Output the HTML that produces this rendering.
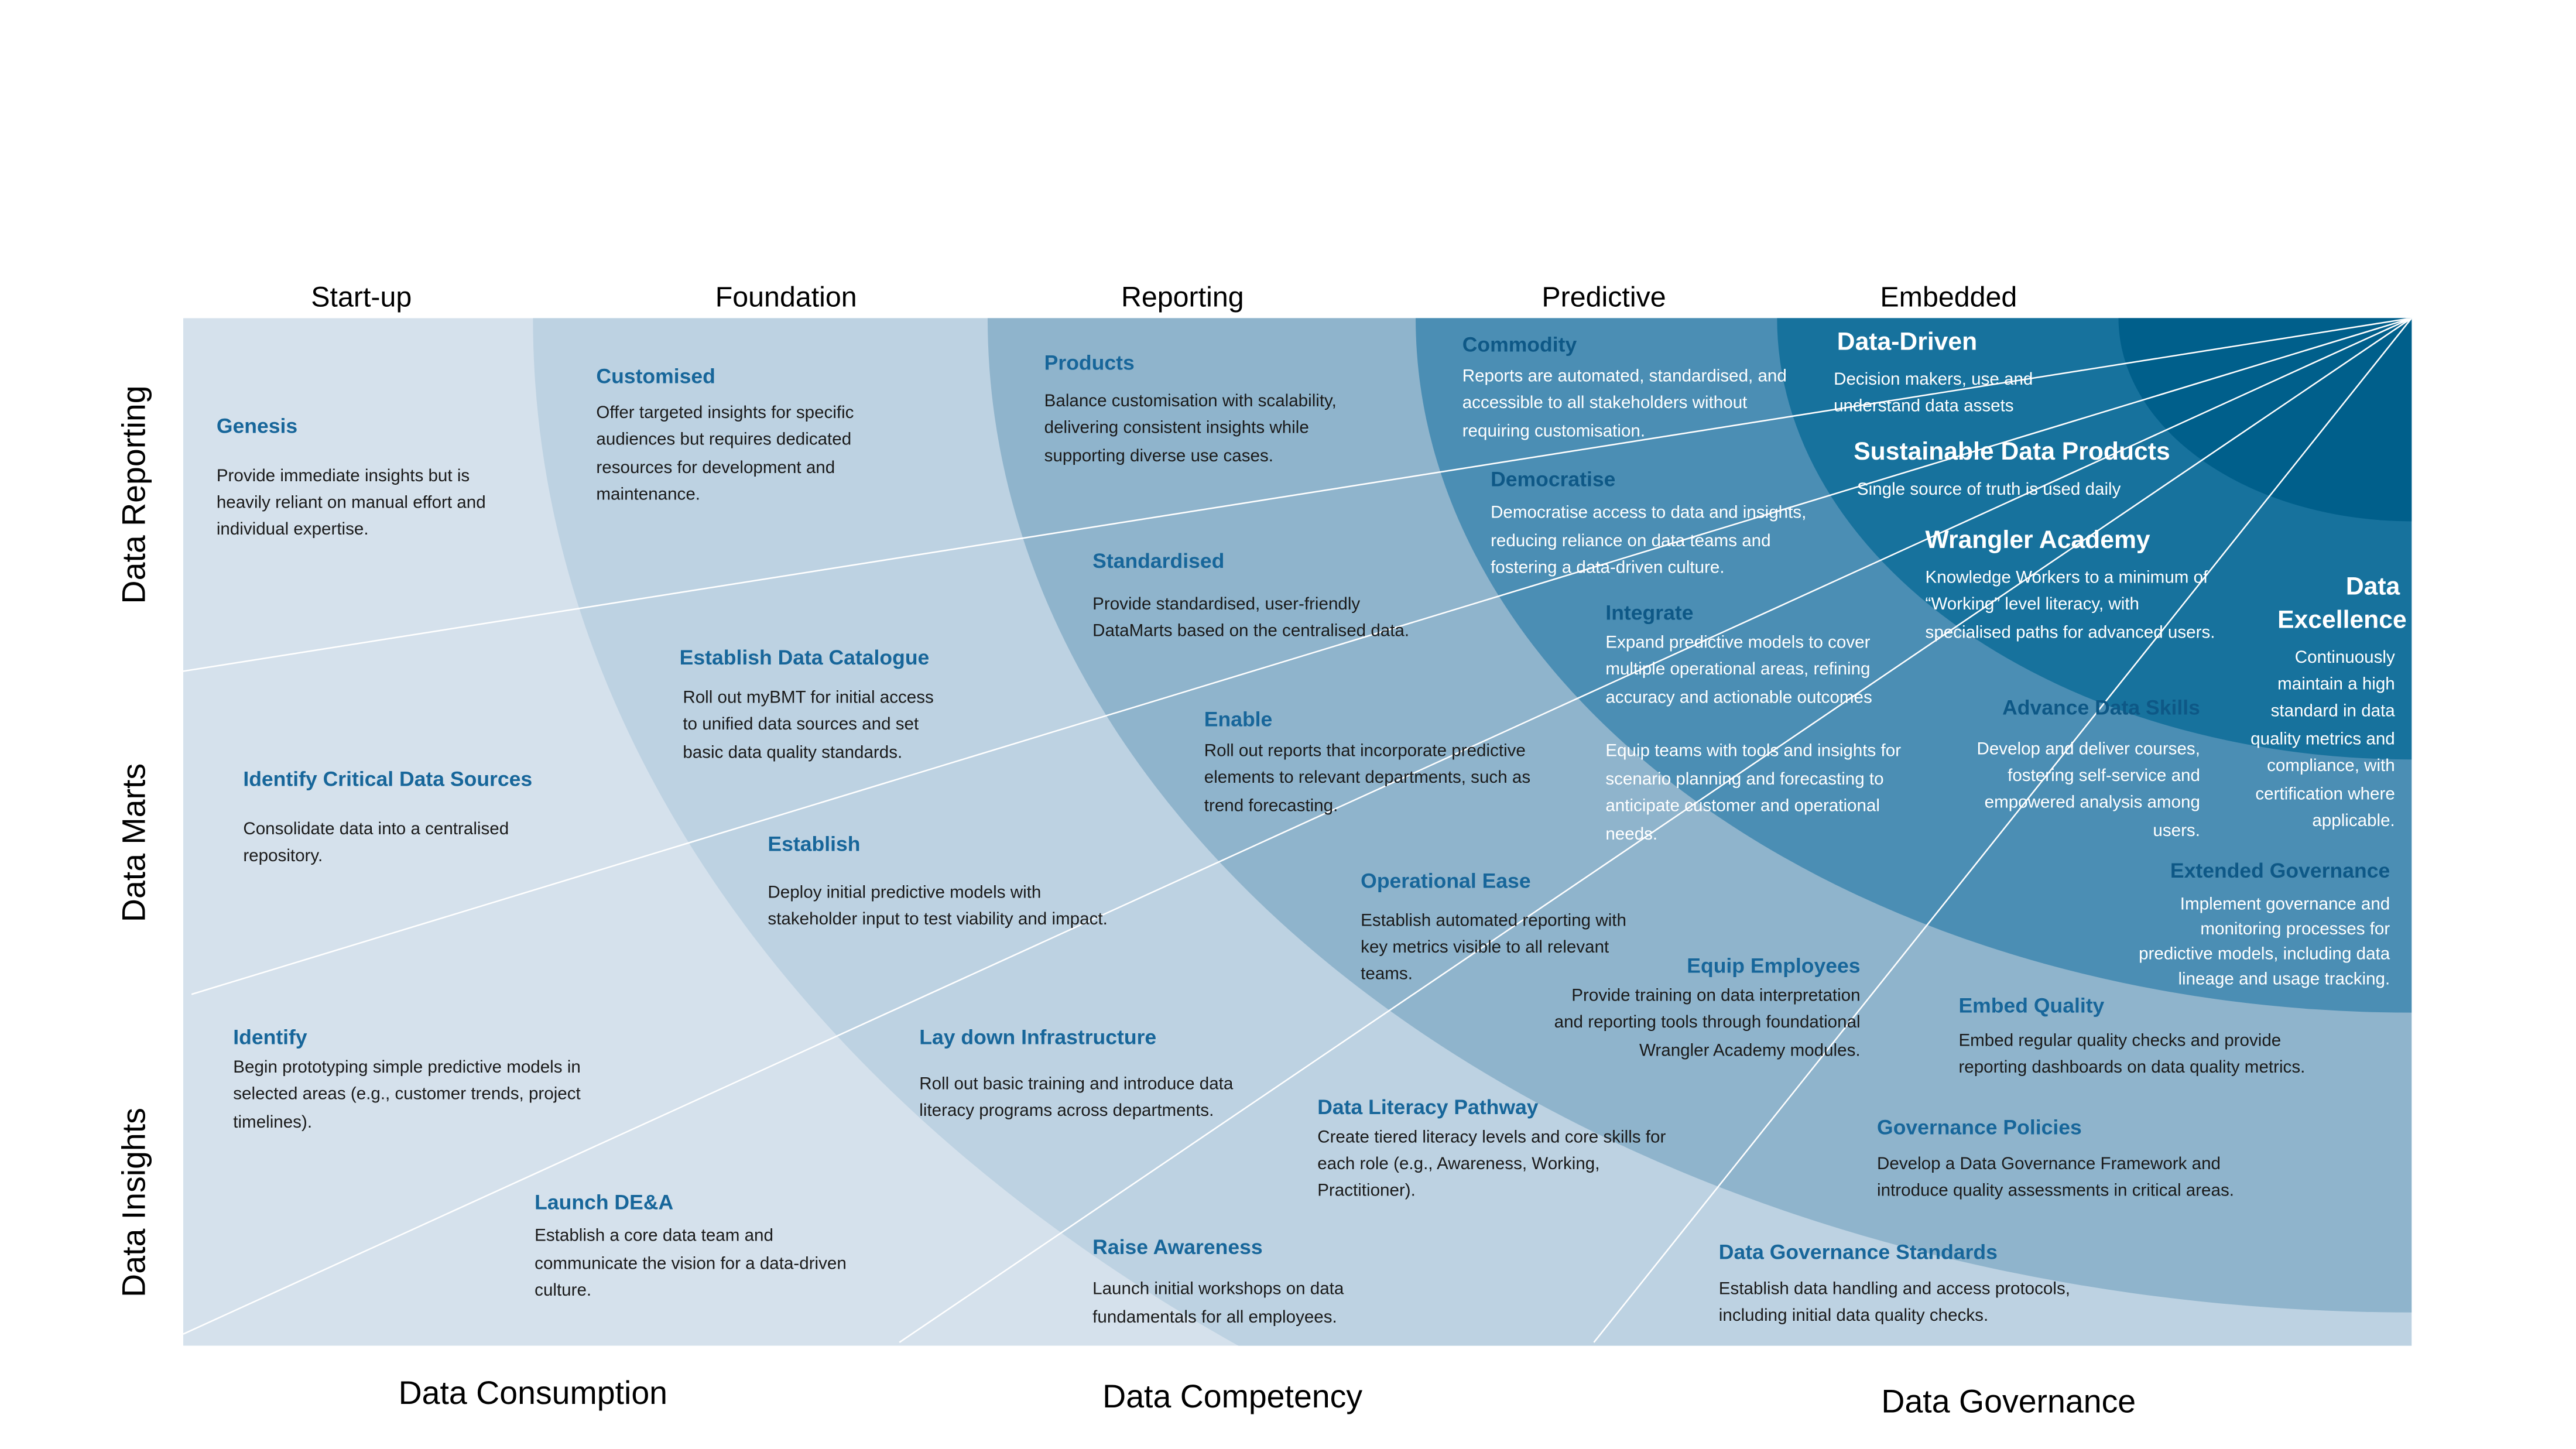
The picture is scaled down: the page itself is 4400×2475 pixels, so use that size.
<!DOCTYPE html>
<html><head><meta charset="utf-8"><style>
html,body{margin:0;padding:0;background:#fff;width:4400px;height:2475px;overflow:hidden;}
svg{display:block;vertical-align:top;}
text{font-family:"Liberation Sans",sans-serif;}
.t{font-weight:bold;font-size:12.5px;fill:#17669a;}
.td{font-weight:bold;font-size:12.5px;fill:#0e5886;}
.tw{font-weight:bold;font-size:15px;fill:#fff;}
.b{font-size:10.4px;fill:#1a1a1a;}
.bw{font-size:10.4px;fill:#fff;}
.ax{font-size:17px;fill:#000;}
.ax2{font-size:19.5px;fill:#000;}
.r{text-anchor:end;}
.c{text-anchor:middle;}
</style></head><body>
<svg width="4400" height="2475" viewBox="0 0 1546.7 870" xmlns="http://www.w3.org/2000/svg">
<defs><clipPath id="cp"><rect x="110" y="191" width="1338" height="617"/></clipPath></defs>
<rect x="0" y="0" width="1546.7" height="870" fill="#fff"/>
<g clip-path="url(#cp)">
<rect x="110" y="191" width="1338" height="617" fill="#d5e1ec"/>
<ellipse cx="1448" cy="191" rx="1128" ry="790" fill="#bdd2e2"/>
<ellipse cx="1448" cy="191" rx="855" ry="597" fill="#8fb4cc"/>
<ellipse cx="1448" cy="191" rx="598" ry="417" fill="#4b8eb4"/>
<ellipse cx="1448" cy="191" rx="381" ry="265" fill="#17729d"/>
<ellipse cx="1448" cy="191" rx="176" ry="122" fill="#005f8b"/>
<g stroke="#fff" stroke-width="0.9" fill="none">
<line x1="1448" y1="191" x2="110" y2="403"/>
<line x1="1448" y1="191" x2="115" y2="597"/>
<line x1="1448" y1="191" x2="110" y2="801"/>
<line x1="1448" y1="191" x2="540" y2="806"/>
<line x1="1448" y1="191" x2="957" y2="806"/>
</g>
</g>
<text class="ax c" x="217" y="184">Start-up</text>
<text class="ax c" x="472" y="184">Foundation</text>
<text class="ax c" x="710" y="184">Reporting</text>
<text class="ax c" x="963" y="184">Predictive</text>
<text class="ax c" x="1170" y="184">Embedded</text>
<text class="ax2 c" transform="translate(87,297) rotate(-90)">Data Reporting</text>
<text class="ax2 c" transform="translate(87,506) rotate(-90)">Data Marts</text>
<text class="ax2 c" transform="translate(87,722) rotate(-90)">Data Insights</text>
<text class="ax2 c" x="320" y="843">Data Consumption</text>
<text class="ax2 c" x="740" y="845">Data Competency</text>
<text class="ax2 c" x="1206" y="848">Data Governance</text>

<text class="t" x="130" y="260">Genesis</text>
<text class="b" x="130" y="289">Provide immediate insights but is</text>
<text class="b" x="130" y="305">heavily reliant on manual effort and</text>
<text class="b" x="130" y="321">individual expertise.</text>

<text class="t" x="358" y="230">Customised</text>
<text class="b" x="358" y="251">Offer targeted insights for specific</text>
<text class="b" x="358" y="267">audiences but requires dedicated</text>
<text class="b" x="358" y="284">resources for development and</text>
<text class="b" x="358" y="300">maintenance.</text>

<text class="t" x="627" y="222">Products</text>
<text class="b" x="627" y="244">Balance customisation with scalability,</text>
<text class="b" x="627" y="260">delivering consistent insights while</text>
<text class="b" x="627" y="277">supporting diverse use cases.</text>

<text class="td" x="878" y="211">Commodity</text>
<text class="bw" x="878" y="229">Reports are automated, standardised, and</text>
<text class="bw" x="878" y="245">accessible to all stakeholders without</text>
<text class="bw" x="878" y="262">requiring customisation.</text>

<text class="tw" x="1103" y="210">Data-Driven</text>
<text class="bw" x="1101" y="231">Decision makers, use and</text>
<text class="bw" x="1101" y="247">understand data assets</text>

<text class="tw" x="1113" y="276">Sustainable Data Products</text>
<text class="bw" x="1115" y="297">Single source of truth is used daily</text>

<text class="tw" x="1156" y="329">Wrangler Academy</text>
<text class="bw" x="1156" y="350">Knowledge Workers to a minimum of</text>
<text class="bw" x="1156" y="366">“Working” level literacy, with</text>
<text class="bw" x="1156" y="383">specialised paths for advanced users.</text>

<text class="tw r" x="1441" y="357">Data</text>
<text class="tw r" x="1445" y="377">Excellence</text>
<text class="bw r" x="1438" y="398">Continuously</text>
<text class="bw r" x="1438" y="414">maintain a high</text>
<text class="bw r" x="1438" y="430">standard in data</text>
<text class="bw r" x="1438" y="447">quality metrics and</text>
<text class="bw r" x="1438" y="463">compliance, with</text>
<text class="bw r" x="1438" y="480">certification where</text>
<text class="bw r" x="1438" y="496">applicable.</text>

<text class="td" x="895" y="292">Democratise</text>
<text class="bw" x="895" y="311">Democratise access to data and insights,</text>
<text class="bw" x="895" y="328">reducing reliance on data teams and</text>
<text class="bw" x="895" y="344">fostering a data-driven culture.</text>

<text class="t" x="656" y="341">Standardised</text>
<text class="b" x="656" y="366">Provide standardised, user-friendly</text>
<text class="b" x="656" y="382">DataMarts based on the centralised data.</text>

<text class="td" x="964" y="372">Integrate</text>
<text class="bw" x="964" y="389">Expand predictive models to cover</text>
<text class="bw" x="964" y="405">multiple operational areas, refining</text>
<text class="bw" x="964" y="422">accuracy and actionable outcomes</text>
<text class="bw" x="964" y="454">Equip teams with tools and insights for</text>
<text class="bw" x="964" y="471">scenario planning and forecasting to</text>
<text class="bw" x="964" y="487">anticipate customer and operational</text>
<text class="bw" x="964" y="504">needs.</text>

<text class="td r" x="1321" y="429">Advance Data Skills</text>
<text class="bw r" x="1321" y="453">Develop and deliver courses,</text>
<text class="bw r" x="1321" y="469">fostering self-service and</text>
<text class="bw r" x="1321" y="485">empowered analysis among</text>
<text class="bw r" x="1321" y="502">users.</text>

<text class="td r" x="1435" y="527">Extended Governance</text>
<text class="bw r" x="1435" y="546">Implement governance and</text>
<text class="bw r" x="1435" y="561">monitoring processes for</text>
<text class="bw r" x="1435" y="576">predictive models, including data</text>
<text class="bw r" x="1435" y="591">lineage and usage tracking.</text>

<text class="t" x="408" y="399">Establish Data Catalogue</text>
<text class="b" x="410" y="422">Roll out myBMT for initial access</text>
<text class="b" x="410" y="438">to unified data sources and set</text>
<text class="b" x="410" y="455">basic data quality standards.</text>

<text class="t" x="723" y="436">Enable</text>
<text class="b" x="723" y="454">Roll out reports that incorporate predictive</text>
<text class="b" x="723" y="470">elements to relevant departments, such as</text>
<text class="b" x="723" y="487">trend forecasting.</text>

<text class="t" x="146" y="472">Identify Critical Data Sources</text>
<text class="b" x="146" y="501">Consolidate data into a centralised</text>
<text class="b" x="146" y="517">repository.</text>

<text class="t" x="461" y="511">Establish</text>
<text class="b" x="461" y="539">Deploy initial predictive models with</text>
<text class="b" x="461" y="555">stakeholder input to test viability and impact.</text>

<text class="t" x="817" y="533">Operational Ease</text>
<text class="b" x="817" y="556">Establish automated reporting with</text>
<text class="b" x="817" y="572">key metrics visible to all relevant</text>
<text class="b" x="817" y="588">teams.</text>

<text class="t r" x="1117" y="584">Equip Employees</text>
<text class="b r" x="1117" y="601">Provide training on data interpretation</text>
<text class="b r" x="1117" y="617">and reporting tools through foundational</text>
<text class="b r" x="1117" y="634">Wrangler Academy modules.</text>

<text class="t" x="1176" y="608">Embed Quality</text>
<text class="b" x="1176" y="628">Embed regular quality checks and provide</text>
<text class="b" x="1176" y="644">reporting dashboards on data quality metrics.</text>

<text class="t" x="140" y="627">Identify</text>
<text class="b" x="140" y="644">Begin prototyping simple predictive models in</text>
<text class="b" x="140" y="660">selected areas (e.g., customer trends, project</text>
<text class="b" x="140" y="677">timelines).</text>

<text class="t" x="552" y="627">Lay down Infrastructure</text>
<text class="b" x="552" y="654">Roll out basic training and introduce data</text>
<text class="b" x="552" y="670">literacy programs across departments.</text>

<text class="t" x="791" y="669">Data Literacy Pathway</text>
<text class="b" x="791" y="686">Create tiered literacy levels and core skills for</text>
<text class="b" x="791" y="702">each role (e.g., Awareness, Working,</text>
<text class="b" x="791" y="718">Practitioner).</text>

<text class="t" x="1127" y="681">Governance Policies</text>
<text class="b" x="1127" y="702">Develop a Data Governance Framework and</text>
<text class="b" x="1127" y="718">introduce quality assessments in critical areas.</text>

<text class="t" x="321" y="726">Launch DE&amp;A</text>
<text class="b" x="321" y="745">Establish a core data team and</text>
<text class="b" x="321" y="762">communicate the vision for a data-driven</text>
<text class="b" x="321" y="778">culture.</text>

<text class="t" x="656" y="753">Raise Awareness</text>
<text class="b" x="656" y="777">Launch initial workshops on data</text>
<text class="b" x="656" y="794">fundamentals for all employees.</text>

<text class="t" x="1032" y="756">Data Governance Standards</text>
<text class="b" x="1032" y="777">Establish data handling and access protocols,</text>
<text class="b" x="1032" y="793">including initial data quality checks.</text>
</svg>
</body></html>
